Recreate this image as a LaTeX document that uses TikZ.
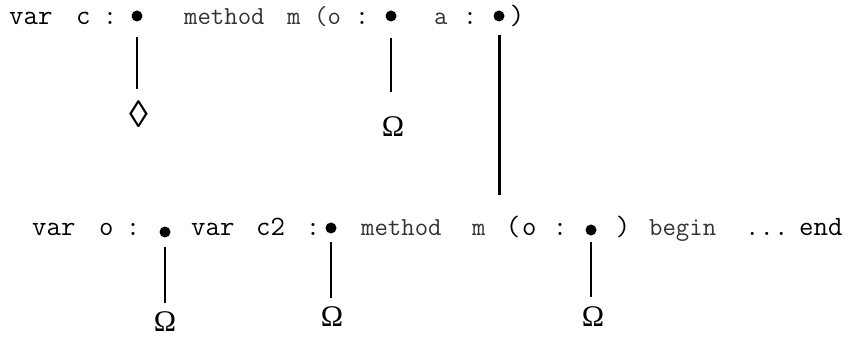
\documentclass[tikz,border=0pt]{standalone}
\usepackage{fontspec}
\newfontfamily\symfont{Liberation Serif}
\begin{document}
\begin{tikzpicture}[x=1pt,y=-1pt,
  txt/.style={inner sep=0pt,anchor=base west,font=\ttfamily\fontsize{28}{30}\selectfont},
  ctxt/.style={inner sep=0pt,anchor=base,font=\ttfamily\fontsize{28}{30}\selectfont},
  thin/.style={inner sep=0pt,anchor=base west,font=\ttfamily\fontsize{26}{28}\selectfont,text=black!80},
  dotnode/.style={circle,fill=black,inner sep=0pt,minimum size=11pt},
  sym/.style={inner sep=0pt,anchor=center,font=\symfont\fontsize{30}{32}\selectfont},
  bigsym/.style={inner sep=0pt,anchor=center,font=\symfont\fontsize{38}{40}\selectfont},
  link/.style={line width=2.2pt},
  biglink/.style={line width=3pt}]
\useasboundingbox (0,0) rectangle (857,339);
% top line
\node[txt]  (ta) at (9,25) {var};
\node[txt]  (tb) at (76,25) {c};
\node[ctxt] (tc) at (110,25) {:};
\node[dotnode] (d1) at (137,16) {};
\node[thin] (td) at (184,25) {method};
\node[thin] (te) at (287,25) {m};
\node[thin] (tf) at (314,25) {(o};
\node[ctxt] (tg) at (362,25) {:};
\node[dotnode] (d2) at (391,16) {};
\node[thin] (th) at (434,25) {a};
\node[ctxt] (ti) at (470,25) {:};
\node[dotnode] (d3) at (499,16) {};
\node[ctxt] (tj) at (517,25) {)};
% top symbols
\node[bigsym] (s1) at (139,114) {◊};
\node[sym] (s2) at (393,127) {Ω};
\coordinate (c3) at (499,195);
% bottom line
\node[txt]  (ba) at (32,236) {var};
\node[txt]  (bb) at (99,236) {o};
\node[ctxt] (bc) at (133,236) {:};
\node[dotnode] (d4) at (165,232) {};
\node[txt]  (bd) at (191,236) {var};
\node[txt]  (be) at (256,236) {c2};
\node[ctxt] (bf) at (313,236) {:};
\node[dotnode] (d5) at (331,228) {};
\node[thin] (bg) at (361,236) {method};
\node[thin] (bh) at (472,236) {m};
\node[ctxt] (bi) at (513,236) {(};
\node[txt]  (bj) at (522,236) {o};
\node[ctxt] (bk) at (560,236) {:};
\node[dotnode] (d6) at (591,230) {};
\node[ctxt] (bl) at (623,236) {)};
\node[thin] (bm) at (649,236) {begin};
\node[txt]  (bn) at (745,236) {...};
\node[txt]  (bo) at (799,236) {end};
% bottom symbols
\node[sym] (s4) at (165,322) {Ω};
\node[sym] (s5) at (332,317) {Ω};
\node[sym] (s6) at (593,317) {Ω};
% connectors
\draw[link,shorten <=21pt,shorten >=25pt] (d1.center) -- (d1.center |- s1.center);
\draw[link,shorten <=22pt,shorten >=35pt] (d2.center) -- (d2.center |- s2.center);
\draw[biglink,shorten <=19pt] (d3.center) -- (c3);
\draw[link,shorten <=15pt,shorten >=19pt] (d4.center) -- (d4.center |- s4.center);
\draw[link,shorten <=14pt,shorten >=19pt] (d5.center) -- (d5.center |- s5.center);
\draw[link,shorten <=12pt,shorten >=20pt] (d6.center) -- (d6.center |- s6.center);
\end{tikzpicture}
\end{document}
